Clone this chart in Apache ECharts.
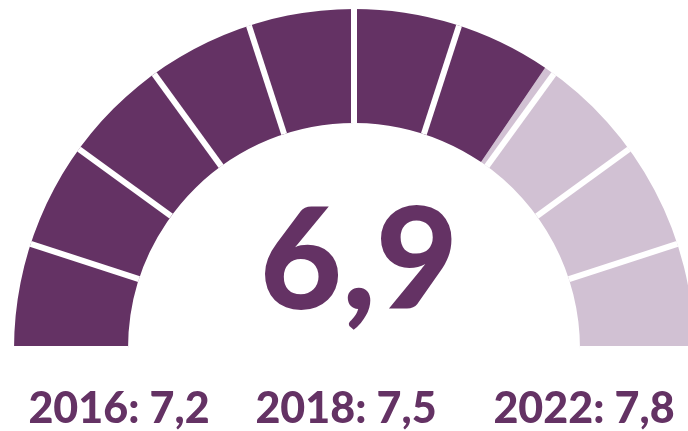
<!DOCTYPE html>
<html>
<head>
<meta charset="utf-8">
<script src="https://cdn.jsdelivr.net/npm/echarts@6/dist/echarts.min.js"></script>
<style>
  html, body { margin: 0; padding: 0; background: #fff; }
  #main { width: 688px; height: 431px; }
</style>
</head>
<body>
<div id="main"></div>
<script>
// data
const scoreNow = 6.9
const scaleMin = 0
const scaleMax = 10
const years = ['2016', '2018', '2022']
const pastScores = [7.2, 7.5, 7.8]

const dark = '#643264'
const light = '#d1c1d3'
const fmt = v => v.toFixed(1).replace('.', ',')

let chart = echarts.init(document.getElementById('main'))

// bottom labels under the gauge
const labelX = [119, 346, 584]
let labels = years.map((y, i) => ({
  type: 'text',
  x: labelX[i],
  y: 409,
  style: {
    text: y + ': ' + fmt(pastScores[i]),
    fill: dark,
    font: '900 43px Lato',
    textAlign: 'center',
    textVerticalAlign: 'middle'
  }
}))

let option = {
  animation: false,
  series: [
    {
      type: 'gauge',
      center: [354, 349],
      radius: 340,
      startAngle: 180,
      endAngle: 0,
      min: scaleMin,
      max: scaleMax,
      splitNumber: 10,
      axisLine: {
        lineStyle: {
          width: 114,
          color: [[(scoreNow - scaleMin) / (scaleMax - scaleMin), dark], [1, light]]
        }
      },
      splitLine: {
        distance: -114,
        length: 114,
        lineStyle: { color: '#fff', width: 6 }
      },
      axisTick: { show: false },
      axisLabel: { show: false },
      pointer: { show: false },
      anchor: { show: false },
      title: { show: false },
      detail: {
        offsetCenter: [5, -86],
        formatter: v => fmt(v),
        color: dark,
        fontFamily: 'Lato',
        fontWeight: 900,
        fontSize: 142
      },
      data: [{ value: scoreNow }]
    }
  ],
  graphic: labels
}
chart.setOption(option)
</script>
</body>
</html>
